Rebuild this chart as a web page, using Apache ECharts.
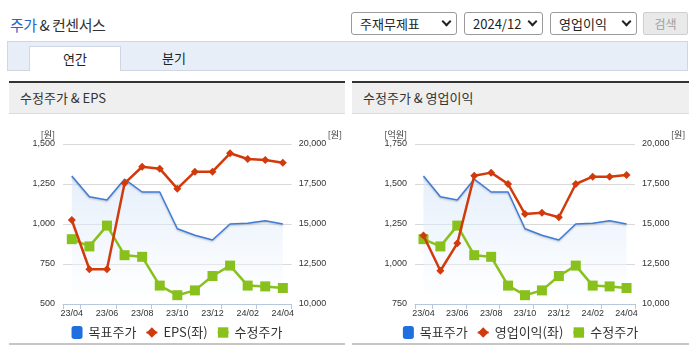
<!DOCTYPE html>
<html>
<head>
<meta charset="utf-8">
<script src="https://cdn.jsdelivr.net/npm/echarts@6/dist/echarts.min.js"></script>
<style>
  html, body { margin:0; padding:0; background:#fff; width:695px; height:349px; overflow:hidden;
    font-family:"Noto Sans CJK KR","Noto Sans",sans-serif; color:#333; }
  .abs { position:absolute; box-sizing:border-box; }
  #title { left:10px; top:14px; font-size:15px; line-height:22px; letter-spacing:-0.5px; }
  #title .b { color:#2a63cf; }
  .sel { height:23px; top:12px; border:1px solid #9a9a9a; border-radius:3px; font-size:13px; line-height:21px; padding-left:8px; color:#222; background:#fff; }
  .chev { position:absolute; width:5px; height:5px; border-right:2px solid #222; border-bottom:2px solid #222; transform:rotate(45deg); top:5px; }
  #btn { left:643px; top:12px; width:45px; height:23px; border:1px solid #cfcfcf; border-radius:2px; background:#e9e9e9; color:#a0a0a0; font-size:12px; line-height:21px; text-align:center; }
  #tabbar { left:7px; top:41px; width:681px; height:30px; background:#e8eef8; border:1px solid #cfd7e5; }
  #tab1 { left:29px; top:46px; width:92px; height:25px; background:#fff; border:1px solid #cfd7e5; border-bottom:none; font-size:13px; line-height:23px; text-align:center; color:#222; }
  #tab2 { left:128px; top:46px; width:92px; height:25px; font-size:13px; line-height:23px; text-align:center; color:#222; }
  .phead { top:81px; height:33px; background:#efefef; border-top:2px solid #333; border-bottom:1px solid #dcdcdc; font-size:13px; line-height:30px; padding-left:11px; color:#333; }
  .pfoot { top:343px; height:2px; background:#c6c6c6; }
  .chart { top:114px; height:229px; }
</style>
</head>
<body>
<div id="title" class="abs"><span class="b">주가</span> &amp; 컨센서스</div>
<div class="abs sel" style="left:351px;width:106px;">주재무제표<div class="chev" style="left:91px;"></div></div>
<div class="abs sel" style="left:464px;width:79px;">2024/12<div class="chev" style="left:64px;"></div></div>
<div class="abs sel" style="left:550px;width:87px;">영업이익<div class="chev" style="left:72px;"></div></div>
<div id="btn" class="abs">검색</div>
<div id="tabbar" class="abs"></div>
<div id="tab1" class="abs">연간</div>
<div id="tab2" class="abs">분기</div>

<div class="abs phead" style="left:9px;width:336px;">수정주가 &amp; EPS</div>
<div class="abs phead" style="left:352px;width:337px;">수정주가 &amp; 영업이익</div>
<div id="c1" class="abs chart" style="left:9px;width:336px;"></div>
<div id="c2" class="abs chart" style="left:352px;width:337px;"></div>
<div class="abs pfoot" style="left:9px;width:336px;"></div>
<div class="abs pfoot" style="left:352px;width:337px;"></div>

<script>
// ---- data ----
const categories = ['23/04','23/05','23/06','23/07','23/08','23/09','23/10','23/11','23/12','24/01','24/02','24/03','24/04'];
const targetPrice = [18000, 16700, 16500, 17800, 17000, 17000, 14700, 14300, 14000, 15000, 15050, 15200, 15000];
const adjPrice    = [14050, 13600, 14900, 13050, 12950, 11150, 10550, 10850, 11750, 12400, 11150, 11100, 11000];
const eps         = [1025, 717, 717, 1254, 1358, 1346, 1221, 1327, 1327, 1442, 1406, 1400, 1383];
const opProfit    = [1178, 958, 1129, 1552, 1571, 1500, 1312, 1321, 1292, 1500, 1546, 1546, 1556];
const leftAxis1 = { min: 500, max: 1500, interval: 250, unit: '[원]' };
const leftAxis2 = { min: 750, max: 1750, interval: 250, unit: '[억원]' };
const rightAxis = { min: 10000, max: 20000, interval: 2500, unit: '[원]' };

const NUMFONT = '"Liberation Sans", Arial, sans-serif';
const KRFONT = '"Noto Sans CJK KR", sans-serif';
const fmt = v => Number(v).toLocaleString('en-US');

function makeOption(cfg) {
  return {
    animation: false,
    grid: { left: cfg.gl, right: cfg.gr, top: 30, bottom: 39, containLabel: false },
    legend: {
      top: 207, left: 'center', itemGap: 9, itemWidth: 11, itemHeight: 13,
      textStyle: { fontFamily: KRFONT, fontSize: 13, color: '#333', padding: [0, 0, 0, 1] },
      data: [
        { name: '목표주가', icon: 'roundRect', itemStyle: { color: '#1f6fde' } },
        { name: cfg.redName },
        { name: '수정주가' }
      ]
    },
    xAxis: {
      type: 'category', data: categories, boundaryGap: true,
      axisLine: { lineStyle: { color: '#b7c7dc', width: 1 } },
      axisTick: { show: true, length: 5, interval: (i) => i === 0 || i % 2 === 1, lineStyle: { color: '#b7c7dc' } },
      axisLabel: { interval: 1, margin: 5, fontSize: 9, fontFamily: NUMFONT, color: '#333' },
      splitLine: { show: false }
    },
    yAxis: [
      {
        type: 'value', position: 'left', min: cfg.left.min, max: cfg.left.max, interval: cfg.left.interval,
        name: cfg.left.unit, nameLocation: 'end', nameGap: 5,
        nameTextStyle: { fontFamily: KRFONT, fontSize: 9, color: '#333', align: 'right', padding: [0, 8, 0, 0] },
        axisLine: { show: false }, axisTick: { show: false },
        axisLabel: { margin: 8, fontSize: 9, fontFamily: NUMFONT, color: '#333', formatter: fmt },
        splitLine: { show: true, lineStyle: { color: '#d9d9d9', width: 1 } }
      },
      {
        type: 'value', position: 'right', min: rightAxis.min, max: rightAxis.max, interval: rightAxis.interval,
        name: rightAxis.unit, nameLocation: 'end', nameGap: 5,
        nameTextStyle: { fontFamily: KRFONT, fontSize: 9, color: '#333', align: 'left', padding: [0, 0, 0, 36] },
        axisLine: { show: false }, axisTick: { show: false },
        axisLabel: { margin: 7, fontSize: 9, fontFamily: NUMFONT, color: '#333', formatter: fmt },
        splitLine: { show: false }
      }
    ],
    series: [
      {
        name: '목표주가', type: 'line', yAxisIndex: 1, data: targetPrice,
        symbol: 'none', smooth: false,
        lineStyle: { color: '#3f7bd8', width: 1.5, shadowColor: 'rgba(0,0,0,0.25)', shadowBlur: 2, shadowOffsetY: 1 },
        itemStyle: { color: '#3f7bd8' },
        areaStyle: {
          color: { type: 'linear', x: 0, y: 0, x2: 0, y2: 1,
            colorStops: [ { offset: 0, color: 'rgba(205,224,248,0.75)' }, { offset: 1, color: 'rgba(255,255,255,0.6)' } ] },
          shadowBlur: 0, shadowColor: 'transparent'
        },
        z: 1
      },
      {
        name: cfg.redName, type: 'line', yAxisIndex: 0, data: cfg.red,
        symbol: 'diamond', symbolSize: 8,
        lineStyle: { color: '#d23a0c', width: 2.5 },
        itemStyle: { color: '#d23a0c' },
        z: 3
      },
      {
        name: '수정주가', type: 'line', yAxisIndex: 1, data: adjPrice,
        symbol: 'rect', symbolSize: 10,
        lineStyle: { color: '#89c11c', width: 2.5 },
        itemStyle: { color: '#89c11c' },
        z: 2
      }
    ]
  };
}

const ch1 = echarts.init(document.getElementById('c1'), null, { renderer: 'canvas' });
ch1.setOption(makeOption({ gl: 54, gr: 53, left: leftAxis1, red: eps, redName: 'EPS(좌)' }));
const ch2 = echarts.init(document.getElementById('c2'), null, { renderer: 'canvas' });
ch2.setOption(makeOption({ gl: 63, gr: 54, left: leftAxis2, red: opProfit, redName: '영업이익(좌)' }));
</script>
</body>
</html>
